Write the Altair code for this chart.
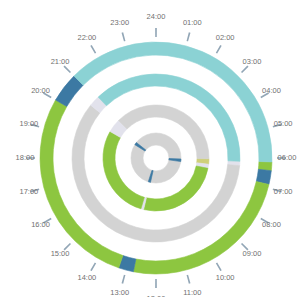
import math
import altair as alt
import pandas as pd

# ---- data -------------------------------------------------------------
hour_ticks = list(range(24))
hour_labels = ["24:00"] + [f"{h:02d}:00" for h in range(1, 24)]

state_names = ["sleep", "awake", "transition", "idle", "light", "marker"]
state_colors = ["#8bd2d4", "#8dc640", "#3c79a3", "#d3d3d3", "#e2e2ec", "#cfd07a"]

# ring 1 (outer) - hours; an end past 24 wraps over midnight
ring1_start = [6.13, 6.42, 6.88, 12.75, 13.25, 20.0, 21.0]
ring1_end = [6.42, 6.88, 12.75, 13.25, 20.0, 21.0, 30.13]
ring1_state = ["awake", "transition", "awake", "transition", "awake", "transition", "sleep"]

# ring 2
ring2_start = [6.15, 6.35, 20.6, 21.1]
ring2_end = [6.35, 20.6, 21.1, 30.15]
ring2_state = ["light", "idle", "light", "sleep"]

# ring 3
ring3_start = [6.05, 6.45, 6.75, 12.9, 13.1, 20.0, 21.0]
ring3_end = [6.45, 6.75, 12.9, 13.1, 20.0, 21.0, 30.05]
ring3_state = ["marker", "light", "awake", "light", "awake", "light", "idle"]

# ring 4 (inner): full grey ring with three transition marks
ring4_start = [0.0, 6.15, 12.85, 20.15]
ring4_end = [24.0, 6.55, 13.2, 20.55]
ring4_state = ["idle", "transition", "transition", "transition"]

# ---- chart ------------------------------------------------------------
CX, CY = 148, 150
theta_scale = alt.Scale(domain=[0, 24], range=[0, 2 * math.pi])
color_scale = alt.Scale(domain=state_names, range=state_colors)


def ring(starts, ends, states, r_out, r_in):
    df = pd.DataFrame({"start": starts, "end": ends, "state": states})
    return alt.Chart(df).mark_arc(
        radius=r_out, radius2=r_in, x=CX, y=CY, strokeWidth=0.6
    ).encode(
        theta=alt.Theta("start:Q", scale=theta_scale, stack=None),
        theta2="end:Q",
        color=alt.Color("state:N", scale=color_scale, legend=None),
        stroke=alt.Stroke("state:N", scale=color_scale, legend=None),
    )


hours_df = pd.DataFrame({"h": hour_ticks, "label": hour_labels})

ticks = alt.Chart(hours_df).transform_calculate(
    t0="datum.h - 0.025", t1="datum.h + 0.025"
).mark_arc(radius=130, radius2=121, x=CX, y=CY, color="#92a6b6", strokeWidth=0).encode(
    theta=alt.Theta("t0:Q", scale=theta_scale, stack=None),
    theta2="t1:Q",
)

# labels sit on a slightly flattened ring so the side labels stay inside the page
labels = alt.Chart(hours_df).transform_calculate(
    lr="1 / sqrt(pow(sin(datum.h * PI / 12) / 131, 2) + pow(cos(datum.h * PI / 12) / 141, 2))"
).mark_text(
    x=CX, y=CY, fontSize=7.5, color="#707070", font="Liberation Sans",
    align="center", baseline="middle"
).encode(
    theta=alt.Theta("h:Q", scale=theta_scale, stack=None),
    radius=alt.Radius("lr:Q", scale=None),
    text="label:N",
)

chart = alt.layer(
    ring(ring1_start, ring1_end, ring1_state, 116, 103),
    ring(ring2_start, ring2_end, ring2_state, 84, 72),
    ring(ring3_start, ring3_end, ring3_state, 53, 41),
    ring(ring4_start, ring4_end, ring4_state, 25, 13),
    ticks,
    labels,
).properties(
    width=289, height=289, padding=0, background="white",
    autosize=alt.AutoSizeParams(type="none"),
).configure_view(stroke=None)

chart.save("out.html", embed_options={"renderer": "svg", "actions": False})
